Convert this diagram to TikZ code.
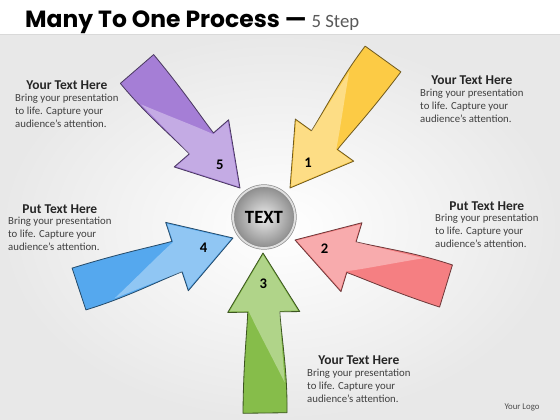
\documentclass[tikz,border=0pt]{standalone}
\usepackage{fontspec}
\setmainfont{Carlito}
\newfontfamily\titlefont{Poppins}[Ligatures=TeX]
\usetikzlibrary{positioning}
\definecolor{stepviolet}{HTML}{A57ED6}
\definecolor{stepyellow}{HTML}{FCCB45}
\definecolor{stepred}{HTML}{F57F82}
\definecolor{stepgreen}{HTML}{86BD4A}
\definecolor{stepblue}{HTML}{55A8EE}
\tikzset{
  headtext/.style={inner sep=0pt, font=\fontsize{11.5}{13}\selectfont\bfseries, text=black!85},
  bodytext/.style={inner sep=0pt, align=left, font=\fontsize{9.2}{11.2}\selectfont, text=black!75},
  stepnum/.style={inner sep=0pt, font=\fontsize{12.5}{14}\selectfont\bfseries},
}
\begin{document}
\begin{tikzpicture}[x=0.03cm,y=-0.03cm]
  \useasboundingbox (0,0) rectangle (560,420);
  % background
  \fill[white] (0,0) rectangle (560,420);
  \shade[inner color=white, outer color=black!9] (0,34) rectangle (560,420);
  \draw[black!15] (0,34) -- (560,34);
  % title
  \node[anchor=base west, inner sep=0pt] (title) at (25,27)
    {\titlefont\fontsize{20}{22}\selectfont\bfseries Many To One Process —
     {\normalfont\fontsize{16}{18}\selectfont\color{black!65}5 Step}};
  % arrows
  \foreach \tx/\ty/\hx/\hy/\col/\num in {137/69/240/188/stepviolet/5,
      383/59/290/188/stepyellow/1, 446/286/295/240/stepred/2,
      265/413/263/253/stepgreen/3, 79/289/233/238/stepblue/4} {
    \pgfmathsetmacro\ang{atan2(\ty-\hy,\hx-\tx)}
    \pgfmathsetmacro\len{veclen(\hx-\tx,\hy-\ty)}
    \pgfmathsetmacro\hb{\len-59}
    \begin{scope}[shift={(\tx,\ty)},rotate=\ang]
      \filldraw[fill=\col, draw=\col!45!black, line width=0.7pt, line join=round]
        (0,-22) .. controls ({0.5*\hb},-21) and ({0.8*\hb},-17) .. (\hb,-16)
        -- (\hb,-36) -- (\len,0) -- (\hb,36) -- (\hb,16)
        .. controls ({0.7*\hb},18) and ({0.4*\hb},23) .. (0,22) -- cycle;
      \fill[white, opacity=0.35]
        (\hb+1,-34) -- (\len-2,0) -- (\hb+1,34) -- (\hb+1,16)
        .. controls ({0.7*\hb},17) and ({0.5*\hb},19) .. ({0.3*\hb},20)
        .. controls ({0.55*\hb},8) and ({0.85*\hb},-8) .. (\hb+1,-15) -- cycle;
      \node[stepnum] (n\num) at (\len-31,0) {\num};
    \end{scope}
  }
  % hub
  \node[circle, minimum size=1.86cm, inner sep=0pt, draw=black!45, line width=0.6pt,
        double=black!12, double distance=1.6pt,
        inner color=black!8, outer color=black!45,
        font=\fontsize{16}{18}\selectfont\bfseries] (hub) at (264,217) {TEXT};
  % texts
  \node[bodytext, anchor=north west] (b5) at (15,94)
    {Bring your presentation\\to life. Capture your\\audience’s attention.};
  \node[headtext, above=1.2mm of b5] (h5) {Your Text Here};
  \node[bodytext, anchor=north west] (b1) at (420,89)
    {Bring your presentation\\to life. Capture your\\audience’s attention.};
  \node[headtext, above=1.2mm of b1] (h1) {Your Text Here};
  \node[bodytext, anchor=north west] (b4) at (8,217)
    {Bring your presentation\\to life. Capture your\\audience’s attention.};
  \node[headtext, above=1.1mm of b4] (h4) {Put Text Here};
  \node[bodytext, anchor=north west] (b2) at (435,214)
    {Bring your presentation\\to life. Capture your\\audience’s attention.};
  \node[headtext, above=1.1mm of b2] (h2) {Put Text Here};
  \node[bodytext, anchor=north west] (b3) at (307,369)
    {Bring your presentation\\to life. Capture your\\audience’s attention.};
  \node[headtext, above=1.2mm of b3] (h3) {Your Text Here};
  \node[inner sep=0pt, font=\fontsize{7.5}{9}\selectfont, text=black!70] (logo) at (522,407) {Your Logo};
\end{tikzpicture}
\end{document}
